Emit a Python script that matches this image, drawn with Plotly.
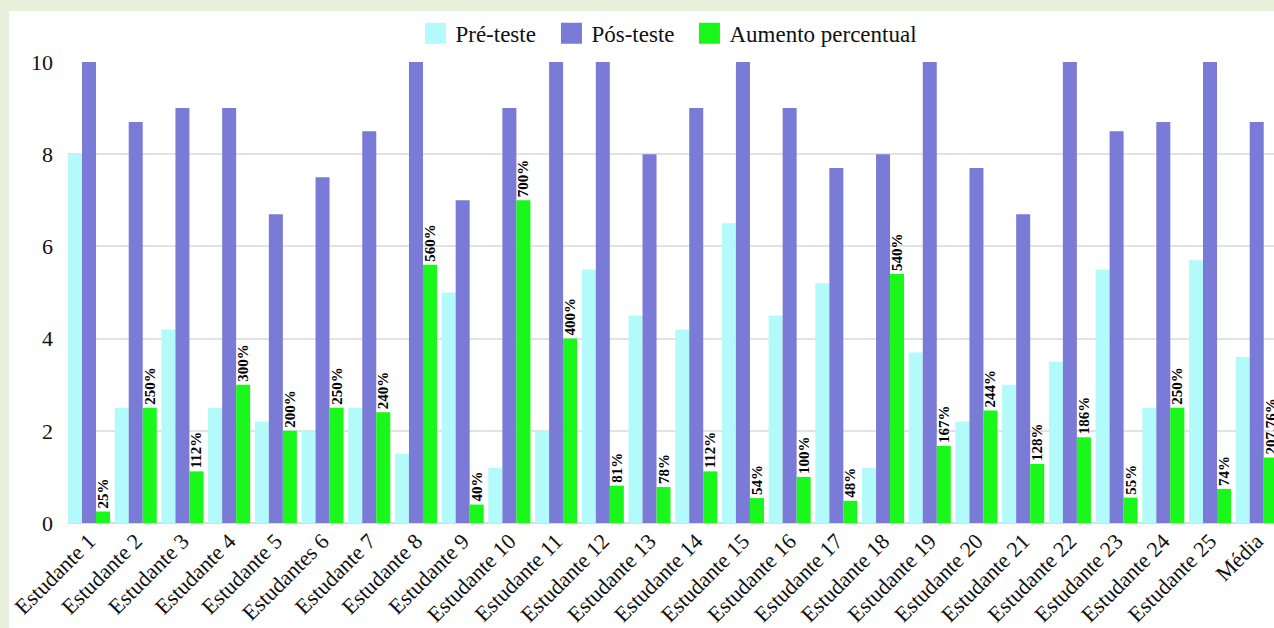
import plotly.graph_objects as go

categorias = ["Estudante 1", "Estudante 2", "Estudante 3", "Estudante 4", "Estudante 5",
              "Estudantes 6", "Estudante 7", "Estudante 8", "Estudante 9", "Estudante 10",
              "Estudante 11", "Estudante 12", "Estudante 13", "Estudante 14", "Estudante 15",
              "Estudante 16", "Estudante 17", "Estudante 18", "Estudante 19", "Estudante 20",
              "Estudante 21", "Estudante 22", "Estudante 23", "Estudante 24", "Estudante 25",
              "Média"]
pre_teste = [8.0, 2.5, 4.2, 2.5, 2.2, 2.0, 2.5, 1.5, 5.0, 1.2, 2.0, 5.5, 4.5, 4.2, 6.5,
             4.5, 5.2, 1.2, 3.7, 2.2, 3.0, 3.5, 5.5, 2.5, 5.7, 3.6]
pos_teste = [10, 8.7, 9, 9, 6.7, 7.5, 8.5, 10, 7, 9, 10, 10, 8, 9, 10,
             9, 7.7, 8, 10, 7.7, 6.7, 10, 8.5, 8.7, 10, 8.7]
aumento = [0.25, 2.5, 1.12, 3.0, 2.0, 2.5, 2.4, 5.6, 0.4, 7.0, 4.0, 0.81, 0.78, 1.12, 0.54,
           1.0, 0.48, 5.4, 1.67, 2.44, 1.28, 1.86, 0.55, 2.5, 0.74, 1.42]
rotulos = ["25%", "250%", "112%", "300%", "200%", "250%", "240%", "560%", "40%", "700%",
           "400%", "81%", "78%", "112%", "54%", "100%", "48%", "540%", "167%", "244%",
           "128%", "186%", "55%", "250%", "74%", "207.76%"]
y_ticks = [0, 2, 4, 6, 8, 10]

series = ["Pré-teste", "Pós-teste", "Aumento percentual"]
cores = ["#b3fafa", "#7a7bd6", "#1af71a"]
larguras_legenda = [91, 93, None]
FONT = "Liberation Serif"

fig = go.Figure()
fig.add_trace(go.Bar(x=categorias, y=pre_teste, name=series[0], marker_color=cores[0],
                     marker_line_width=0, showlegend=False))
fig.add_trace(go.Bar(x=categorias, y=pos_teste, name=series[1], marker_color=cores[1],
                     marker_line_width=0, showlegend=False))
fig.add_trace(go.Bar(x=categorias, y=aumento, name=series[2], marker_color=cores[2],
                     marker_line_width=0, showlegend=False,
                     text=rotulos, textposition="outside", textangle=-90,
                     constraintext="none", cliponaxis=False,
                     textfont=dict(family=FONT, size=15, color="#000", weight="bold")))

# legend entries (larger square swatches)
for nome, cor, lw in zip(series, cores, larguras_legenda):
    tr = go.Scatter(x=[None], y=[None], mode="markers", name=nome,
                    marker=dict(symbol="square", size=16, color=cor,
                                line=dict(width=5, color=cor)))
    if lw:
        tr.legendwidth = lw
    fig.add_trace(tr)

fig.update_layout(
    width=1274, height=628,
    margin=dict(l=68, r=0, t=62, b=105, autoexpand=False),
    paper_bgcolor="#e9f1dd",
    plot_bgcolor="#ffffff",
    barmode="group", bargap=0.1, bargroupgap=0,
    font=dict(family=FONT, color="#111"),
    legend=dict(orientation="h", x=0.4983, xanchor="center", y=1.062, yanchor="middle",
                font=dict(family=FONT, size=23, color="#111"),
                bgcolor="rgba(0,0,0,0)"),
    shapes=[dict(type="rect", xref="paper", yref="paper",
                 x0=-0.0489, x1=1.02, y0=-0.3, y1=1.1106,
                 fillcolor="#ffffff", line_width=0, layer="below")],
)
fig.update_xaxes(type="category", range=[-0.45, 25.37], tickangle=-45,
                 tickfont=dict(family=FONT, size=22, color="#111"),
                 showgrid=False, showline=False, ticks="", automargin=False)
fig.update_yaxes(range=[0, 10], tickvals=y_ticks, showgrid=True, gridcolor="#e2e2e2",
                 gridwidth=2, zeroline=True, zerolinecolor="#dcdcdc", zerolinewidth=2,
                 tickfont=dict(family=FONT, size=22, color="#111"),
                 ticks="", ticklabelstandoff=14, automargin=False)

fig.write_html("out.html")
